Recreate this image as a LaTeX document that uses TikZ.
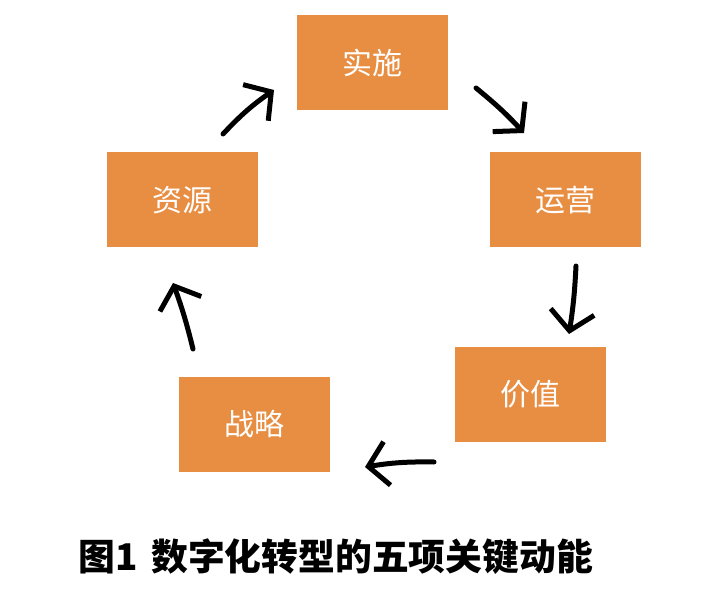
\documentclass[tikz,border=0pt]{standalone}
\usepackage{fontspec}
\newfontfamily\cjk{Noto Sans CJK SC}
\usetikzlibrary{arrows.meta}
\definecolor{boxorange}{RGB}{232,142,66}
\tikzset{
  box/.style={fill=boxorange, draw=none, minimum width=151pt, minimum height=95pt, inner sep=0pt, text=white, font=\cjk\fontsize{30}{30}\selectfont},
  flow/.style={line width=5pt, line cap=round, line join=round, -{Straight Barb[length=19pt,width=44pt,line width=5pt]}},
}
\begin{document}
\begin{tikzpicture}[x=1pt,y=-1pt]
\useasboundingbox (0,0) rectangle (718,604);
\fill[white] (0,0) rectangle (718,604);
\node[box] (shishi) at (372.5,62.5) {实施};
\node[box] (yunying) at (565.5,200) {运营};
\node[box] (jiazhi) at (530.5,394) {价值};
\node[box] (zhanlue) at (254.5,424) {战略};
\node[box] (ziyuan) at (182.5,200) {资源};
\coordinate (a1s) at (223,134);
\coordinate (a1e) at (274,90);
\coordinate (a2s) at (476,88);
\coordinate (a2e) at (524,133);
\coordinate (a3s) at (576,266);
\coordinate (a3e) at (569,334);
\coordinate (a4s) at (434,462);
\coordinate (a4e) at (365,467);
\coordinate (a5s) at (193,349);
\coordinate (a5e) at (173,283);
\draw[flow] (a1s) to[bend left=6] (a1e);
\draw[flow] (a2s) to[bend left=4] (a2e);
\draw[flow] (a3s) to[bend left=3] (a3e);
\draw[flow] (a4s) to[bend right=5] (a4e);
\draw[flow] (a5s) to[bend right=3] (a5e);
\node[anchor=west, inner sep=0pt, font=\cjk\bfseries\fontsize{36.8}{36.8}\selectfont] (caption) at (78,557) {图1\hspace{14pt}数字化转型的五项关键动能};
\end{tikzpicture}
\end{document}
